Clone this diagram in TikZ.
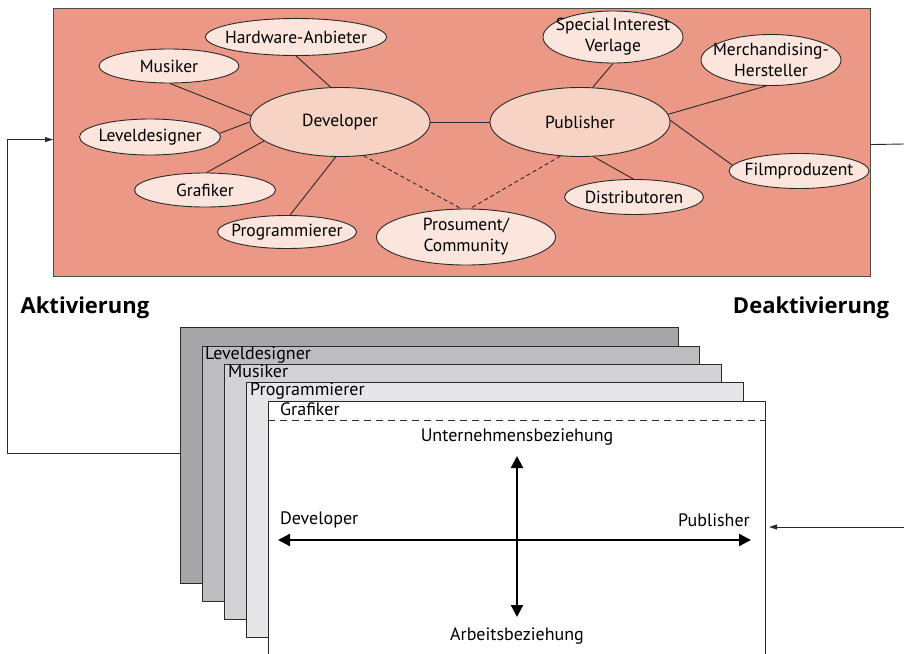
\documentclass[tikz,border=0pt]{standalone}
\usepackage{fontspec}
\setmainfont{PT Sans}
\newfontfamily\boldfam{Open Sans}
\usetikzlibrary{shapes.geometric,arrows.meta}
\definecolor{boxred}{HTML}{EC9886}
\definecolor{ellfill}{HTML}{FBE5DD}
\definecolor{ellmain}{HTML}{F7D3C6}
\definecolor{gA}{HTML}{A6A6A9}
\definecolor{gB}{HTML}{BDBDC0}
\definecolor{gC}{HTML}{D3D3D5}
\definecolor{gD}{HTML}{E6E6E8}
\definecolor{lnc}{HTML}{2A2A2A}
\newcommand\fsm{\fontsize{17.5}{21}\selectfont}
\newcommand\fsl{\fontsize{18}{21}\selectfont}
\newcommand\fbig{\boldfam\fontsize{22}{24}\selectfont\bfseries}
\begin{document}
\begin{tikzpicture}[x=1pt,y=-1pt,
  ell/.style={ellipse, draw=lnc, line width=0.9pt, fill=ellfill, inner sep=0pt},
  ellm/.style={ell, fill=ellmain},
  elltxt/.style={inner sep=0pt, align=center, font=\fsm},
  con/.style={draw=lnc, line width=0.9pt},
  dcon/.style={con, dash pattern=on 4pt off 3pt},
  mainbox/.style={draw=black!70, line width=1.1pt, fill=boxred, inner sep=0pt, anchor=north west},
  stackbox/.style={draw=lnc, line width=1pt, inner sep=0pt, anchor=north west},
  stacklbl/.style={inner sep=0pt, anchor=base west, font=\fsl},
  axlbl/.style={inner sep=0pt, font=\fsl},
  biglbl/.style={inner sep=0pt, font=\fbig},
  smallarr/.style={con, -{Triangle[length=8pt,width=5pt]}},
  bigarr/.style={draw=black, line width=2.2pt, {Triangle[length=12pt,width=12pt]}-{Triangle[length=12pt,width=12pt]}}
]
\useasboundingbox (0,0) rectangle (904,653);

% upper box
\node[mainbox, minimum width=817, minimum height=268] (box) at (53,8) {};

\node[ell, minimum width=181, minimum height=37, label={[elltxt]center:Hardware-Anbieter}] (hw) at (296,37) {};
\node[ell, minimum width=140, minimum height=34, label={[elltxt]center:Musiker}] (mus) at (169,66) {};
\node[ellm, minimum width=180, minimum height=69, label={[elltxt]center:Developer}] (dev) at (340,122) {};
\node[ell, minimum width=141, minimum height=36, label={[elltxt]center:Leveldesigner}] (lev) at (150,137) {};
\node[ell, minimum width=141, minimum height=34, label={[elltxt]center:Grafiker}] (gra) at (205,190) {};
\node[ell, minimum width=139, minimum height=33, label={[elltxt]center:Programmierer}] (prg) at (287,232) {};
\node[ell, minimum width=179, minimum height=56, label={[elltxt]center:{Prosument/\\Community}}] (pros) at (466,237) {};
\node[ellm, minimum width=180, minimum height=69, label={[elltxt]center:Publisher}] (pub) at (580,122) {};
\node[ell, minimum width=140, minimum height=52, label={[elltxt]center:{Special\,Interest\\Verlage}}] (spe) at (613,37) {};
\node[ell, minimum width=140, minimum height=51, label={[elltxt]center:{Merchandising-\\Hersteller}}] (mer) at (771,60) {};
\node[ell, minimum width=140, minimum height=35, label={[elltxt]center:Filmproduzent}] (fil) at (799,171) {};
\node[ell, minimum width=139, minimum height=35, label={[elltxt]center:Distributoren}] (dis) at (634,197) {};

\draw[con] (hw.-90) -- (dev.105);
\draw[con] (mus.-87) -- (dev.176);
\draw[con] (lev.3) -- (dev.180);
\draw[con] (gra.85) -- (dev.194);
\draw[con] (prg.80) -- (dev.-97);
\draw[dcon] (dev.-55) -- (pros.100);
\draw[dcon] (pub.-120) -- (pros.82);
\draw[con] (dev.east) -- (pub.west);
\draw[con] (spe.-90) -- (pub.70);
\draw[con] (pub.5) -- (mer.-100);
\draw[con] (pub.1) -- (fil.175);
\draw[con] (pub.-69) -- (dis.92);

% labels
\node[biglbl] (akt) at (85,308) {Aktivierung};
\node[biglbl] (deak) at (811,308) {Deaktivierung};

% stack
\node[stackbox, fill=gA, minimum width=498, minimum height=256] (s1) at (180,327) {};
\node[stackbox, fill=gB, minimum width=497, minimum height=255] (s2) at (202,346) {};
\node[stackbox, fill=gC, minimum width=497, minimum height=255] (s3) at (224,364) {};
\node[stackbox, fill=gD, minimum width=497, minimum height=255] (s4) at (246,382) {};
\node[stackbox, fill=white, minimum width=497, minimum height=262] (s5) at (268,401) {};

\node[stacklbl] (l2) at ([xshift=3pt,yshift=-13pt]s2.north west) {Leveldesigner};
\node[stacklbl] (l3) at ([xshift=4pt,yshift=-13pt]s3.north west) {Musiker};
\node[stacklbl] (l4) at ([xshift=4pt,yshift=-13pt]s4.north west) {Programmierer};
\node[stacklbl] (l5) at ([xshift=12pt,yshift=-14pt]s5.north west) {Grafiker};
\draw[draw=lnc, line width=0.9pt, dash pattern=on 7pt off 5pt] ([yshift=-19pt]s5.north west) -- ([yshift=-19pt]s5.north east);

% axes
\node[axlbl] (ub) at (517,437) {Unternehmensbeziehung};
\node[axlbl] (ab) at (517,636) {Arbeitsbeziehung};
\node[axlbl, anchor=west] (dvl) at (280,520) {Developer};
\node[axlbl, anchor=east] (pbl) at (750,520) {Publisher};
\coordinate (vt) at (517,456);
\coordinate (vb) at (517,617);
\coordinate (hl) at (278,540);
\coordinate (hr) at (751,540);
\draw[bigarr] (vt) -- (vb);
\draw[bigarr] (hl) -- (hr);

% connectors
\coordinate (lbend) at (7,453);
\draw[smallarr] (s1.west |- lbend) -- (lbend) |- ([yshift=3pt]box.west);
\coordinate (rtop) at (904,144);
\draw[con] ([yshift=-2pt]box.east) -- (rtop);
\coordinate (rlow) at (904,527);
\coordinate (rtip) at (769,527);
\draw[smallarr] (rlow) -- (rtip);
\end{tikzpicture}
\end{document}
